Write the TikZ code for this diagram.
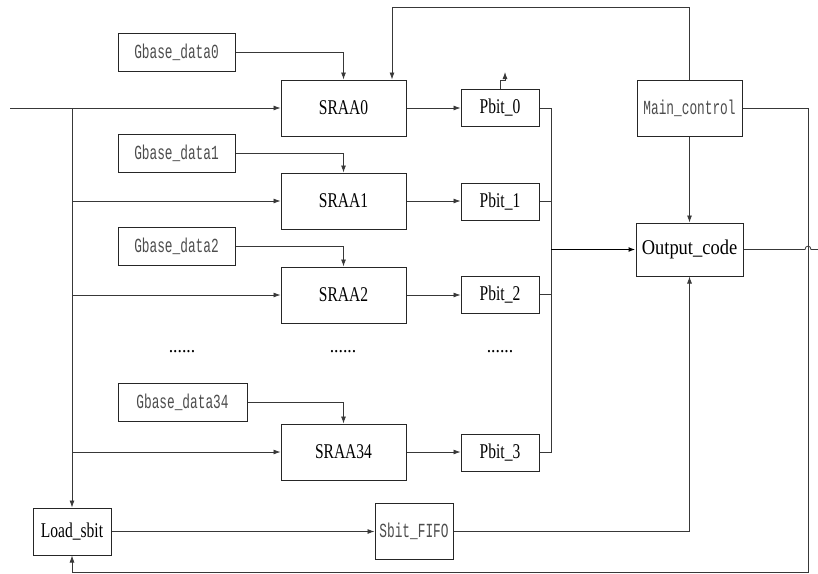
\documentclass[tikz,border=0pt]{standalone}
\usepackage{fontspec}
\usetikzlibrary{arrows.meta}
\newfontfamily\blockFont[FakeStretch=0.74]{Liberation Serif}
\newfontfamily\wideFont[FakeStretch=0.88]{Liberation Serif}
\newfontfamily\gbaseFont[FakeStretch=0.64]{Liberation Mono}
\newcommand*{\wireCol}{black!78}
\newcommand*{\blockArg}[7]{% name, x centre, y centre, width, height, style, text
    \node [box, minimum width=#4pt, minimum height=#5pt, #6] (#1) at (#2,#3) {#7};
}
\newcommand*{\sraa}[3]{\blockArg{#1}{343.5}{#2}{125}{56}{serif}{#3}} % name, y centre, text
\newcommand*{\pbit}[3]{\blockArg{#1}{500}{#2}{78}{37}{serif}{#3}}
\newcommand*{\gbase}[5]{\blockArg{#1}{#2}{#3}{#4}{38}{mono}{#5}} % name, x, y, width, text

\begin{document}
\begin{tikzpicture}[x=1pt, y=-1pt,
    box/.style={draw=black!85, line width=1pt, inner sep=0pt, align=center},
    serif/.style={font=\blockFont\fontsize{21}{23}\selectfont},
    mono/.style={font=\gbaseFont\fontsize{20}{22}\selectfont, text=black!70},
    wire/.style={draw=\wireCol, line width=0.8pt},
    tip/.style={-{Latex[length=7pt, width=5pt]}}] {
\useasboundingbox (0,0) rectangle (818,573);
% blocks
\gbase{gbase0}{176.5}{52}{117}{Gbase\_data0}
\gbase{gbase1}{176.5}{153}{117}{Gbase\_data1}
\gbase{gbase2}{176.5}{246}{117}{Gbase\_data2}
\gbase{gbase34}{182.5}{402}{129}{Gbase\_data34}
\sraa{sraa0}{108}{SRAA0}
\sraa{sraa1}{201}{SRAA1}
\sraa{sraa2}{295}{SRAA2}
\sraa{sraa34}{452}{SRAA34}
\pbit{pbit0}{108}{Pbit\_0}
\pbit{pbit1}{201.5}{Pbit\_1}
\pbit{pbit2}{294.5}{Pbit\_2}
\pbit{pbit3}{452.5}{Pbit\_3}
\blockArg{main}{689.5}{108}{105}{56}{mono}{Main\_control}
\blockArg{out}{689.5}{249.5}{107}{53}{font=\wideFont\fontsize{21}{23}\selectfont}{Output\_code}
\blockArg{load}{72}{531.5}{78}{47}{serif}{Load\_sbit}
\blockArg{fifo}{414}{531}{78}{56}{mono}{Sbit\_FIFO}
\node [font=\wideFont\fontsize{20}{22}\selectfont, anchor=base] (dots0) at (182,352) {......};
\node [font=\wideFont\fontsize{20}{22}\selectfont, anchor=base] (dots1) at (343,352) {......};
\node [font=\wideFont\fontsize{20}{22}\selectfont, anchor=base] (dots2) at (500,352) {......};
% input line and its taps
\coordinate (inStart) at (10,108);
\coordinate (tap) at (72,108);
\draw [wire, tip] (inStart) -- (sraa0.west);
\draw [wire, tip] (tap) -- (load.north);
\foreach \s in {sraa1, sraa2, sraa34}
    \draw [wire, tip] (tap |- \s.west) -- (\s.west);
% Gbase data into the SRAA blocks
\foreach \g/\s in {gbase0/sraa0, gbase1/sraa1, gbase2/sraa2, gbase34/sraa34}
    \draw [wire, tip] (\g.east) -| (\s.north);
% SRAA into Pbit
\foreach \s/\p in {sraa0/pbit0, sraa1/pbit1, sraa2/pbit2, sraa34/pbit3}
    \draw [wire, tip] (\s.east) -- (\p.west |- \s.east);
\draw [wire, tip] (pbit0.north) -- ++(0,-9) -- ++(5,0) -- ++(0,-8);
% Pbit bus into Output_code
\coordinate (bus) at (551,249.5);
\draw [wire] (pbit0.east) -- (pbit0.east -| bus) -- (pbit3.east -| bus) -- (pbit3.east);
\foreach \p in {pbit1, pbit2}
    \draw [wire] (\p.east) -- (\p.east -| bus);
\draw [wire, tip, line width=1.8pt, draw=black] (bus) -- (out.west);
% control lines
\coordinate (fbTop) at (689.5,7);
\draw [wire, tip] (main.north) -- (fbTop) -| ([xshift=48.5pt]sraa0.north);
\draw [wire, tip] (main.south) -- (out.north);
\draw [wire, tip] (load.east) -- (fifo.west |- load.east);
\draw [wire, tip] (fifo.east) -| (out.south);
\coordinate (rail) at (808,572);
\draw [wire, tip] (main.east) -| (rail) -| (load.south);
\coordinate (outEnd) at (818,249.5);
\draw [wire] (out.east) -- (805,249.5) .. controls (805,245) and (811,245) .. (811,249.5) -- (outEnd);
}\end{tikzpicture}
\end{document}
